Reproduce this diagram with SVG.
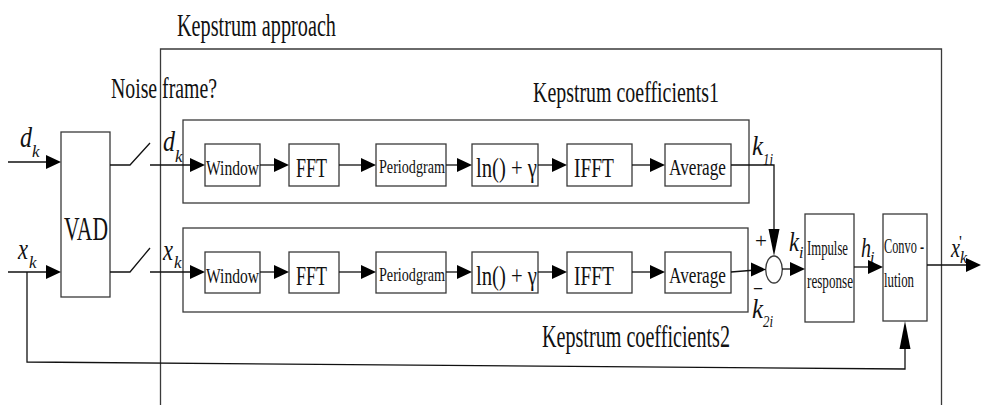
<svg xmlns="http://www.w3.org/2000/svg" width="981" height="405" viewBox="0 0 981 405">
<style>
text{font-family:"Liberation Serif","Times New Roman",serif;fill:#111}
.it{font-style:italic}
.box{fill:none;stroke:#3a3a3a;stroke-width:1.3}
.ln{fill:none;stroke:#111;stroke-width:1.3}
.ah{fill:#000}
</style>
<defs>
<path id="ahR" d="M0,0 L-15,-7 L-15,7 Z"/>
<path id="ahD" d="M0,0 L-5.5,-27 L5.5,-27 Z"/>
<path id="ahU" d="M0,0 L-5.5,28 L5.5,28 Z"/>
</defs>

<g id="frame-kepstrum">
<path class="box" d="M160.5,405 V49 H941.5 V405"/>
<text x="177" y="36" font-size="31" textLength="159" lengthAdjust="spacingAndGlyphs">Kepstrum approach</text>
</g>
<text x="111" y="98" font-size="30" textLength="106" lengthAdjust="spacingAndGlyphs">Noise frame?</text>

<g id="group-coef1">
<rect class="box" x="183" y="120" width="566" height="83"/>
<text x="533" y="102" font-size="29" textLength="186" lengthAdjust="spacingAndGlyphs">Kepstrum coefficients1</text>
</g>
<g id="group-coef2">
<rect class="box" x="183" y="228" width="565" height="84"/>
<text x="542" y="347" font-size="31" textLength="188" lengthAdjust="spacingAndGlyphs">Kepstrum coefficients2</text>
</g>

<g id="vad"><rect class="box" x="61" y="132" width="49" height="165"/>
<text x="64" y="240" font-size="34" textLength="44" lengthAdjust="spacingAndGlyphs">VAD</text></g>

<g id="window1"><rect class="box" x="205" y="144" width="55" height="42"/>
<text x="206" y="175" font-size="22" textLength="53" lengthAdjust="spacingAndGlyphs">Window</text></g>
<g id="fft1"><rect class="box" x="289" y="144" width="50" height="42"/>
<text x="296" y="177" font-size="27" textLength="31" lengthAdjust="spacingAndGlyphs">FFT</text></g>
<g id="periodgram1"><rect class="box" x="376" y="144" width="70" height="42"/>
<text x="379" y="173" font-size="18" textLength="66" lengthAdjust="spacingAndGlyphs">Periodgram</text></g>
<g id="ln1"><rect class="box" x="472" y="144" width="66" height="42"/>
<text x="476" y="177" font-size="27" textLength="61" lengthAdjust="spacingAndGlyphs">ln() + γ</text></g>
<g id="ifft1"><rect class="box" x="567" y="144" width="65" height="42"/>
<text x="574" y="177" font-size="27" textLength="40" lengthAdjust="spacingAndGlyphs">IFFT</text></g>
<g id="average1"><rect class="box" x="665" y="144" width="66" height="42"/>
<text x="669" y="175" font-size="24" textLength="57" lengthAdjust="spacingAndGlyphs">Average</text></g>

<g id="window2"><rect class="box" x="205" y="252" width="55" height="41"/>
<text x="206" y="283" font-size="22" textLength="53" lengthAdjust="spacingAndGlyphs">Window</text></g>
<g id="fft2"><rect class="box" x="289" y="252" width="50" height="41"/>
<text x="296" y="285" font-size="27" textLength="31" lengthAdjust="spacingAndGlyphs">FFT</text></g>
<g id="periodgram2"><rect class="box" x="376" y="252" width="70" height="41"/>
<text x="379" y="281" font-size="18" textLength="66" lengthAdjust="spacingAndGlyphs">Periodgram</text></g>
<g id="ln2"><rect class="box" x="472" y="252" width="66" height="41"/>
<text x="476" y="285" font-size="27" textLength="61" lengthAdjust="spacingAndGlyphs">ln() + γ</text></g>
<g id="ifft2"><rect class="box" x="567" y="252" width="65" height="41"/>
<text x="574" y="285" font-size="27" textLength="40" lengthAdjust="spacingAndGlyphs">IFFT</text></g>
<g id="average2"><rect class="box" x="665" y="252" width="66" height="41"/>
<text x="669" y="283" font-size="24" textLength="57" lengthAdjust="spacingAndGlyphs">Average</text></g>

<g id="sum"><ellipse class="box" cx="774" cy="269.5" rx="8.3" ry="13.5"/>
<text x="755" y="248" font-size="22" textLength="12" lengthAdjust="spacingAndGlyphs">+</text>
<text x="753" y="296" font-size="22" textLength="10" lengthAdjust="spacingAndGlyphs">−</text></g>

<g id="impulse"><rect class="box" x="805" y="214" width="49" height="108"/>
<text x="807" y="255" font-size="21" textLength="41" lengthAdjust="spacingAndGlyphs">Impulse</text>
<text x="807" y="288" font-size="21" textLength="46" lengthAdjust="spacingAndGlyphs">response</text></g>
<g id="convolution"><rect class="box" x="883" y="214" width="44" height="107"/>
<text x="884" y="253" font-size="21" textLength="40" lengthAdjust="spacingAndGlyphs">Convo -</text>
<text x="884" y="287" font-size="21" textLength="30" lengthAdjust="spacingAndGlyphs">lution</text></g>

<g id="labels">
<text class="it" x="20" y="147" font-size="30"><tspan textLength="12" lengthAdjust="spacingAndGlyphs">d</tspan><tspan x="32" y="157" font-size="17">k</tspan></text>
<text class="it" x="18" y="259" font-size="30"><tspan textLength="10" lengthAdjust="spacingAndGlyphs">x</tspan><tspan x="29" y="268" font-size="17">k</tspan></text>
<text class="it" x="163" y="151" font-size="30"><tspan textLength="12" lengthAdjust="spacingAndGlyphs">d</tspan><tspan x="175" y="162" font-size="17">k</tspan></text>
<text class="it" x="163" y="260" font-size="30"><tspan textLength="10" lengthAdjust="spacingAndGlyphs">x</tspan><tspan x="174" y="268" font-size="17">k</tspan></text>
<text class="it" x="752" y="155" font-size="28"><tspan textLength="11" lengthAdjust="spacingAndGlyphs">k</tspan><tspan x="763" y="165" font-size="16" textLength="10" lengthAdjust="spacingAndGlyphs">1i</tspan></text>
<text class="it" x="752" y="318" font-size="28"><tspan textLength="11" lengthAdjust="spacingAndGlyphs">k</tspan><tspan x="763" y="327" font-size="16" textLength="10" lengthAdjust="spacingAndGlyphs">2i</tspan></text>
<text class="it" x="789" y="251" font-size="28"><tspan textLength="10" lengthAdjust="spacingAndGlyphs">k</tspan><tspan x="799" y="258" font-size="16">i</tspan></text>
<text class="it" x="861" y="257" font-size="28"><tspan textLength="10" lengthAdjust="spacingAndGlyphs">h</tspan><tspan x="870" y="263" font-size="16">i</tspan></text>
<text class="it" x="951" y="257" font-size="27"><tspan textLength="9" lengthAdjust="spacingAndGlyphs">x</tspan><tspan x="960" y="263" font-size="16">k</tspan><tspan x="959" y="247" font-size="16" font-style="normal">'</tspan></text>
</g>

<g id="connectors">
<path class="ln" d="M8,162 H50"/><use href="#ahR" class="ah" x="61" y="162"/>
<path class="ln" d="M8,272 H50"/><use href="#ahR" class="ah" x="61" y="272"/>
<path class="ln" d="M27,272 V362 L905,369 V345"/><use href="#ahU" class="ah" x="905" y="321"/>
<path class="ln" d="M110,165 H130 L150,143"/>
<path class="ln" d="M150,165 H194"/><use href="#ahR" class="ah" x="205" y="165"/>
<path class="ln" d="M110,272 H130 L150,248"/>
<path class="ln" d="M150,272 H194"/><use href="#ahR" class="ah" x="205" y="272"/>
<path class="ln" d="M260,165 H278"/><use href="#ahR" class="ah" x="289" y="165"/>
<path class="ln" d="M339,165 H365"/><use href="#ahR" class="ah" x="376" y="165"/>
<path class="ln" d="M446,165 H461"/><use href="#ahR" class="ah" x="472" y="165"/>
<path class="ln" d="M538,165 H556"/><use href="#ahR" class="ah" x="567" y="165"/>
<path class="ln" d="M632,165 H654"/><use href="#ahR" class="ah" x="665" y="165"/>
<path class="ln" d="M260,272 H278"/><use href="#ahR" class="ah" x="289" y="272"/>
<path class="ln" d="M339,272 H365"/><use href="#ahR" class="ah" x="376" y="272"/>
<path class="ln" d="M446,272 H461"/><use href="#ahR" class="ah" x="472" y="272"/>
<path class="ln" d="M538,272 H556"/><use href="#ahR" class="ah" x="567" y="272"/>
<path class="ln" d="M632,272 H654"/><use href="#ahR" class="ah" x="665" y="272"/>
<path class="ln" d="M731,165 H774 V235"/><use href="#ahD" class="ah" x="774" y="256"/>
<path class="ln" d="M731,272 L756,270"/><use href="#ahR" class="ah" x="766" y="269.5"/>
<path class="ln" d="M782,269 H794"/><use href="#ahR" class="ah" x="805" y="269"/>
<path class="ln" d="M854,267 H872"/><use href="#ahR" class="ah" x="883" y="267"/>
<path class="ln" d="M927,265 H968"/><use href="#ahR" class="ah" x="981" y="265"/>
</g>
</svg>
